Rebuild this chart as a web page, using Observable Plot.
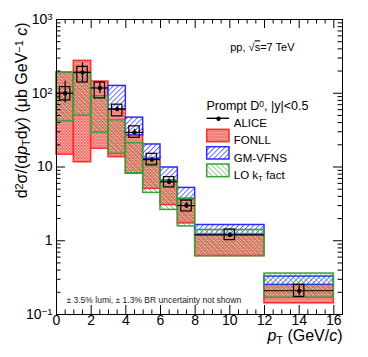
<!DOCTYPE html>
<html><head><meta charset="utf-8">
<script src="https://cdn.jsdelivr.net/npm/d3@7"></script>
<script src="https://cdn.jsdelivr.net/npm/@observablehq/plot@0.6"></script>
<style>body{margin:0;background:#fff} svg{display:block}</style>
</head><body><div id="chart"></div>
<script>
// ---- data ----
const binLo = [0, 1, 2, 3, 4, 5, 6, 7, 8, 12];
const binHi = [1, 2, 3, 4, 5, 6, 7, 8, 12, 16];
const aliceX = [0.5, 1.5, 2.5, 3.5, 4.5, 5.5, 6.5, 7.5, 10, 14];
const aliceVal = [100, 192, 118, 61, 29.5, 12.6, 6.3, 3.0, 1.2, 0.21];
const aliceStatLo = [74, 142, 99, 56, 27, 11.7, 5.8, 2.75, 1.12, 0.178];
const aliceStatHi = [146, 258, 142, 67, 32.5, 13.6, 6.9, 3.3, 1.3, 0.245];
const aliceSysLo = [80, 140, 85, 48.6, 24.9, 10.5, 5.3, 2.5, 1.02, 0.173];
const aliceSysHi = [121, 228, 140, 70, 35.6, 15.1, 7.3, 3.5, 1.42, 0.252];
const fonllLo = [14.7, 11.6, 17.7, 13.6, 8.1, 5.05, 3.04, 1.72, 0.62, 0.142];
const fonllHi = [190, 275, 144, 60.6, 32.4, 13.7, 6.7, 3.6, 1.245, 0.26];
const gmvfnsLo = [null, null, null, 60.6, 26.8, 12.9, 6.55, 3.7, 1.21, 0.252];
const gmvfnsHi = [null, null, null, 125.7, 46.7, 20.2, 9.85, 5.21, 1.635, 0.327];
const ktLo = [41.6, 49.7, 29.2, 15.1, 8.23, 4.46, 2.62, 1.565, 0.616, 0.169];
const ktHi = [191, 191, 91, 42.9, 21.1, 11, 6.55, 3.69, 1.40, 0.359];
const sysHalfWidth = 0.3;

const xTicks = [0, 2, 4, 6, 8, 10, 12, 14, 16];
const xTickLabels = ["0", "2", "4", "6", "8", "10", "12", "14", "16"];
const xMinorTicks = [0.5, 1, 1.5, 2.5, 3, 3.5, 4.5, 5, 5.5, 6.5, 7, 7.5, 8.5, 9, 9.5, 10.5, 11, 11.5, 12.5, 13, 13.5, 14.5, 15, 15.5, 16.5];
const yTicks = [0.1, 1, 10, 100, 1000];
const yTickLabels = ["10^{\u22121}", "1", "10", "10^{2}", "10^{3}"];
const yMinorTicks = [0.1, 1, 10, 100].flatMap(d => [2, 3, 4, 5, 6, 7, 8, 9].map(k => k * d));

const xTitle = ["*{p}_{T} (GeV/*{c})"];
const yTitle = ["d^{2}\u03c3/(d*{p}_{T}d*{y}) (\u03bcb GeV^{\u22121} *{c})"];
const systemLabel = ["pp, \u221a~{s}=7 TeV"];
const legendTitle = ["Prompt D^{0}, |y|<0.5"];
const legendLabels = ["ALICE", "FONLL", "GM-VFNS", "LO k_{T} fact"];
const caption = ["\u00b1 3.5% lumi, \u00b1 1.3% BR uncertainty not shown"];

// ---- layout ----
const W = 368, H = 357;
const mL = 56, mR = 26, mT = 19, mB = 43;
const FW = W - mL - mR, FH = H - mT - mB;
const legendDy = [99.5, 116.5, 134, 151];

const bins = binLo.map((lo, i) => ({
  lo, hi: binHi[i], x: aliceX[i], y: aliceVal[i],
  sLo: aliceStatLo[i], sHi: aliceStatHi[i],
  yLo: aliceSysLo[i], yHi: aliceSysHi[i],
  fLo: fonllLo[i], fHi: fonllHi[i],
  gLo: gmvfnsLo[i], gHi: gmvfnsHi[i],
  kLo: ktLo[i], kHi: ktHi[i]
}));

const RED = "#ff2a2a", BLUE = "#2b2bff", GREEN = "#35a335";
const font = "'Liberation Sans', Arial, Helvetica, sans-serif";

const legendBox = (top, bottom, fill, stroke) => Plot.rect([0], {
  insetLeft: 150.7, insetRight: 113, insetTop: top, insetBottom: bottom,
  fill, stroke, strokeWidth: 1.5
});

const svg = Plot.plot({
  width: W, height: H,
  marginLeft: mL, marginRight: mR, marginTop: mT, marginBottom: mB,
  x: {domain: [0, 16.5], axis: null},
  y: {type: "log", domain: [0.1, 1000], axis: null},
  style: {fontFamily: font, background: "white", color: "black"},
  marks: [
    // model bands
    Plot.rect(bins, {x1: "lo", x2: "hi", y1: "fLo", y2: "fHi", fill: "url(#pFonll)", stroke: RED, strokeWidth: 1.5}),
    Plot.rect(bins.filter(d => d.gLo != null), {x1: "lo", x2: "hi", y1: "gLo", y2: "gHi", fill: "url(#pGm)", stroke: BLUE, strokeWidth: 1.5}),
    Plot.rect(bins, {x1: "lo", x2: "hi", y1: "kLo", y2: "kHi", fill: "url(#pKt)", stroke: GREEN, strokeWidth: 1.5}),
    // ALICE data
    Plot.rect(bins, {x1: d => d.x - sysHalfWidth, x2: d => d.x + sysHalfWidth, y1: "yLo", y2: "yHi", fill: "none", stroke: "black", strokeWidth: 1.2}),
    Plot.ruleX(bins, {x: "x", y1: "sLo", y2: "sHi", stroke: "black", strokeWidth: 1.2}),
    Plot.ruleY(bins, {y: "y", x1: "lo", x2: "hi", stroke: "black", strokeWidth: 1.2}),
    Plot.dot(bins, {x: "x", y: "y", r: 2.2, fill: "black"}),
    // frame & inside ticks
    Plot.frame({stroke: "black", strokeWidth: 1}),
    Plot.tickX(xTicks, {x: d => d, insetTop: FH - 9, stroke: "black"}),
    Plot.tickX(xMinorTicks, {x: d => d, insetTop: FH - 4.5, stroke: "black"}),
    Plot.tickX(xTicks, {x: d => d, insetBottom: FH - 9, stroke: "black"}),
    Plot.tickX(xMinorTicks, {x: d => d, insetBottom: FH - 4.5, stroke: "black"}),
    Plot.tickY(yTicks, {y: d => d, insetRight: FW - 9, stroke: "black"}),
    Plot.tickY(yMinorTicks, {y: d => d, insetRight: FW - 4.5, stroke: "black"}),
    Plot.tickY(yTicks, {y: d => d, insetLeft: FW - 9, stroke: "black"}),
    Plot.tickY(yMinorTicks, {y: d => d, insetLeft: FW - 4.5, stroke: "black"}),
    // tick labels
    Plot.text(xTicks, {x: d => d, frameAnchor: "bottom", dy: 10, text: (d, i) => xTickLabels[i], fontSize: 14, fill: "black"}),
    Plot.text(yTicks, {y: d => d, frameAnchor: "left", dx: -4, textAnchor: "end", text: (d, i) => yTickLabels[i], fontSize: 14, fill: "black"}),
    // axis titles
    Plot.text(xTitle, {frameAnchor: "bottom-right", dy: 26, textAnchor: "end", text: d => d, fontSize: 16, fill: "black"}),
    Plot.text(yTitle, {frameAnchor: "top-left", dx: -41, dy: 3, rotate: -90, textAnchor: "end", text: d => d, fontSize: 16, fill: "black"}),
    // annotations
    Plot.text(systemLabel, {frameAnchor: "top-right", dx: -48, dy: 24, textAnchor: "end", text: d => d, fontSize: 11, fill: "black"}),
    Plot.text(legendTitle, {frameAnchor: "top-left", dx: 150, dy: 81.3, textAnchor: "start", text: d => d, fontSize: 12.5, fill: "black"}),
    Plot.rect([0], {insetLeft: 150.7, insetRight: 113, insetTop: 98.6, insetBottom: 195, fill: "black"}),
    Plot.dot([0], {frameAnchor: "top-left", dx: 162, dy: 99.3, r: 2.2, fill: "black"}),
    legendBox(110.3, 172.3, "url(#pFonll)", RED),
    legendBox(127.7, 155, "url(#pGm)", BLUE),
    legendBox(145, 137.3, "url(#pKt)", GREEN),
    ...legendLabels.map((label, i) => Plot.text([label], {frameAnchor: "top-left", dx: 177.3, dy: legendDy[i], text: d => d, textAnchor: "start", fontSize: 11.5, fill: "black"})),
    Plot.text(caption, {frameAnchor: "top-left", dx: 10, dy: 277.5, textAnchor: "start", text: d => d, fontSize: 8.5, fill: "#222"})
  ]
});

// patterns
svg.insertAdjacentHTML("afterbegin", `<defs>
<pattern id="pFonll" patternUnits="userSpaceOnUse" width="3" height="3">
  <rect width="3" height="3" fill="#f36d68"/>
  <rect x="0" y="0" width="1.4" height="1" fill="#fcc4c1"/>
  <rect x="1.5" y="1.5" width="1.4" height="1" fill="#fcc4c1"/>
</pattern>
<pattern id="pGm" patternUnits="userSpaceOnUse" width="3.6" height="3.6" patternTransform="rotate(45)">
  <rect width="3.6" height="3.6" fill="#ffffff"/>
  <rect x="0" y="0" width="0.8" height="3.6" fill="#4a4aff"/>
</pattern>
<pattern id="pKt" patternUnits="userSpaceOnUse" width="3.6" height="3.6" patternTransform="rotate(-45)">
  <rect x="0" y="0" width="0.7" height="3.6" fill="#2f9a2f" fill-opacity="0.75"/>
</pattern>
</defs>`);

// rich text (super/subscripts, italics, overline)
function richify(root) {
  const NS = "http://www.w3.org/2000/svg";
  root.querySelectorAll("text").forEach(t => {
    const s = t.textContent;
    if (!/[\^_*~]\{/.test(s)) return;
    t.textContent = "";
    const re = /([\^_*~])\{([^}]*)\}/g;
    let last = 0, m;
    const add = (txt, kind) => {
      const ts = document.createElementNS(NS, "tspan");
      ts.textContent = txt;
      if (kind === "^") { ts.setAttribute("baseline-shift", "38%"); ts.setAttribute("font-size", "68%"); }
      if (kind === "_") { ts.setAttribute("baseline-shift", "-28%"); ts.setAttribute("font-size", "68%"); }
      if (kind === "*") ts.setAttribute("font-style", "italic");
      if (kind === "~") ts.setAttribute("text-decoration", "overline");
      t.appendChild(ts);
    };
    while ((m = re.exec(s))) {
      if (m.index > last) add(s.slice(last, m.index));
      add(m[2], m[1]);
      last = re.lastIndex;
    }
    if (last < s.length) add(s.slice(last));
  });
}
document.getElementById("chart").appendChild(svg);
richify(svg);
</script>
</body></html>
